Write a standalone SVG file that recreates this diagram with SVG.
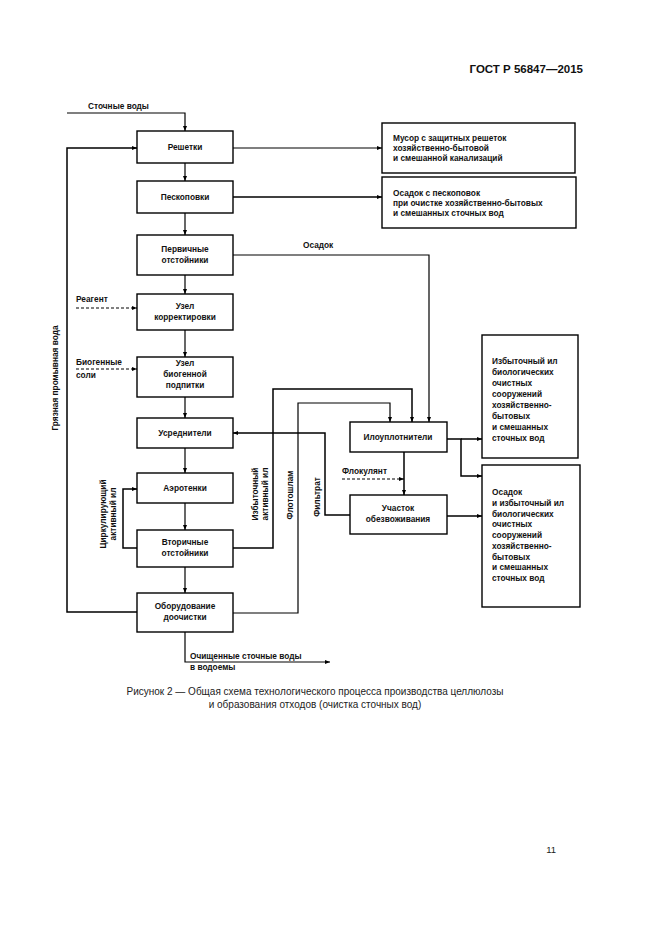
<svg xmlns="http://www.w3.org/2000/svg" width="661" height="935" viewBox="0 0 661 935">
<defs>
<marker id="ah" viewBox="0 0 10 10" refX="10" refY="5" markerWidth="5" markerHeight="5" markerUnits="userSpaceOnUse" orient="auto">
<path d="M0,1 L10,5 L0,9 z" fill="#000"/>
</marker>
</defs>
<style>
.box{fill:#fff;stroke:#000;stroke-width:1.4}
.t{font-family:"Liberation Sans",Arial,sans-serif;font-size:8.3px;font-weight:bold;fill:#111}
.c{text-anchor:middle}
.ln{fill:none;stroke:#000;stroke-width:1.2}
.lt{fill:none;stroke:#000;stroke-width:1.5}
.ds{fill:none;stroke:#000;stroke-width:1;stroke-dasharray:3,2}
.cap{font-family:"Liberation Sans",Arial,sans-serif;font-size:10px;fill:#222;text-anchor:middle}
</style>
<rect width="661" height="935" fill="#fff"/>
<text x="583" y="73" font-family="Liberation Sans,Arial,sans-serif" font-size="11.5" font-weight="bold" text-anchor="end" fill="#111">ГОСТ Р 56847—2015</text>

<g id="connectors">
<polyline class="ln" points="67,113 185,113 185,131" marker-end="url(#ah)"/>
<line class="ln" x1="185" y1="163" x2="185" y2="181" marker-end="url(#ah)"/>
<line class="ln" x1="185" y1="213" x2="185" y2="235" marker-end="url(#ah)"/>
<line class="ln" x1="185" y1="275" x2="185" y2="294" marker-end="url(#ah)"/>
<line class="ln" x1="185" y1="330" x2="185" y2="357" marker-end="url(#ah)"/>
<line class="ln" x1="185" y1="397" x2="185" y2="418" marker-end="url(#ah)"/>
<line class="ln" x1="185" y1="448" x2="185" y2="473" marker-end="url(#ah)"/>
<line class="ln" x1="185" y1="503" x2="185" y2="530" marker-end="url(#ah)"/>
<line class="ln" x1="185" y1="567" x2="185" y2="593" marker-end="url(#ah)"/>
<polyline class="ln" points="185,632 185,662 330,662" marker-end="url(#ah)"/>
<polyline class="lt" points="137,612 67,612 67,148 137,148" marker-end="url(#ah)"/>
<line class="ln" x1="233" y1="148" x2="382" y2="148" marker-end="url(#ah)"/>
<line class="lt" x1="233" y1="197" x2="382" y2="197" marker-end="url(#ah)"/>
<polyline class="ln" points="233,255 429,255 429,422" marker-end="url(#ah)"/>
<line class="ds" x1="76" y1="308" x2="137" y2="308" marker-end="url(#ah)"/>
<line class="ds" x1="76" y1="369" x2="137" y2="369" marker-end="url(#ah)"/>
<polyline class="lt" points="137,548 123,548 123,489 137,489" marker-end="url(#ah)"/>
<polyline class="lt" points="233,548 273,548 273,389 412,389 412,422" marker-end="url(#ah)"/>
<polyline class="ln" points="233,613 298,613 298,403 390,403 390,422" marker-end="url(#ah)"/>
<polyline class="lt" points="350,515 325,515 325,433 233,433" marker-end="url(#ah)"/>
<line class="lt" x1="404" y1="452" x2="404" y2="495" marker-end="url(#ah)"/>
<line class="ds" x1="342" y1="479" x2="404" y2="479" marker-end="url(#ah)"/>
<polyline class="lt" points="447,439 461,439 461,476 482,476" marker-end="url(#ah)"/>
<line class="lt" x1="461" y1="439" x2="482" y2="439" marker-end="url(#ah)"/>
<line class="lt" x1="447" y1="516" x2="482" y2="516" marker-end="url(#ah)"/>
</g>

<g id="labels">
<text class="t" x="88" y="109">Сточные воды</text>
<text class="t" x="303" y="248">Осадок</text>
<text class="t" x="76" y="302">Реагент</text>
<text class="t" x="76" y="365">Биогенные</text>
<text class="t" x="76" y="378">соли</text>
<text class="t c" transform="translate(58,378) rotate(-90)">Грязная промывная вода</text>
<text class="t c" transform="translate(106,514) rotate(-90)">Циркулирующий</text>
<text class="t c" transform="translate(116,514) rotate(-90)">активный ил</text>
<text class="t c" transform="translate(258,494) rotate(-90)">Избыточный</text>
<text class="t c" transform="translate(268,494) rotate(-90)">активный ил</text>
<text class="t c" transform="translate(293,495) rotate(-90)">Флотошлам</text>
<text class="t c" transform="translate(320,497) rotate(-90)">Фильтрат</text>
<text class="t" x="342" y="474">Флокулянт</text>
<text class="t" x="190" y="659">Очищенные сточные воды</text>
<text class="t" x="190" y="670">в водоемы</text>
</g>

<g id="n-reshetki"><rect class="box" x="137" y="131" width="96" height="32"/><text class="t c" x="185" y="150">Решетки</text></g>
<g id="n-peskolovki"><rect class="box" x="137" y="181" width="96" height="32"/><text class="t c" x="185" y="200">Пескоповки</text></g>
<g id="n-perv"><rect class="box" x="137" y="235" width="96" height="40"/><text class="t c" x="185" y="252">Первичные</text><text class="t c" x="185" y="263">отстойники</text></g>
<g id="n-korr"><rect class="box" x="137" y="294" width="96" height="36"/><text class="t c" x="185" y="309">Узел</text><text class="t c" x="185" y="320">корректировки</text></g>
<g id="n-biog"><rect class="box" x="137" y="357" width="96" height="40"/><text class="t c" x="185" y="366">Узел</text><text class="t c" x="185" y="377">биогенной</text><text class="t c" x="185" y="388">подпитки</text></g>
<g id="n-usr"><rect class="box" x="137" y="418" width="96" height="30"/><text class="t c" x="185" y="436">Усреднители</text></g>
<g id="n-aero"><rect class="box" x="137" y="473" width="96" height="30"/><text class="t c" x="185" y="491">Аэротенки</text></g>
<g id="n-vtor"><rect class="box" x="137" y="530" width="96" height="37"/><text class="t c" x="185" y="545">Вторичные</text><text class="t c" x="185" y="556">отстойники</text></g>
<g id="n-doochist"><rect class="box" x="137" y="593" width="96" height="39"/><text class="t c" x="185" y="609">Оборудование</text><text class="t c" x="185" y="620">доочистки</text></g>

<g id="n-musor"><rect class="box" x="382" y="123" width="193" height="50"/><text class="t" x="393" y="141">Мусор с защитных решеток</text><text class="t" x="393" y="151">хозяйственно-бытовой</text><text class="t" x="393" y="161">и смешанной канализаций</text></g>
<g id="n-osadok-pesk"><rect class="box" x="382" y="177" width="194" height="51"/><text class="t" x="393" y="196">Осадок с пескоповок</text><text class="t" x="393" y="206">при очистке хозяйственно-бытовых</text><text class="t" x="393" y="216">и смешанных сточных вод</text></g>

<g id="n-iloupl"><rect class="box" x="350" y="422" width="97" height="30"/><text class="t c" x="398" y="440">Илоуплотнители</text></g>
<g id="n-obezv"><rect class="box" x="350" y="495" width="97" height="39"/><text class="t c" x="398" y="511">Участок</text><text class="t c" x="398" y="522">обезвоживания</text></g>

<g id="n-izb-il"><rect class="box" x="482" y="335" width="96" height="123"/>
<text class="t" x="492" y="364">Избыточный ил</text><text class="t" x="492" y="375">биологических</text><text class="t" x="492" y="386">очистных</text><text class="t" x="492" y="397">сооружений</text><text class="t" x="492" y="408">хозяйственно-</text><text class="t" x="492" y="419">бытовых</text><text class="t" x="492" y="430">и смешанных</text><text class="t" x="492" y="441">сточных вод</text></g>
<g id="n-osadok-il"><rect class="box" x="482" y="465" width="98" height="142"/>
<text class="t" x="492" y="495">Осадок</text><text class="t" x="492" y="506">и избыточный ил</text><text class="t" x="492" y="517">биологических</text><text class="t" x="492" y="527">очистных</text><text class="t" x="492" y="538">сооружений</text><text class="t" x="492" y="549">хозяйственно-</text><text class="t" x="492" y="560">бытовых</text><text class="t" x="492" y="570">и смешанных</text><text class="t" x="492" y="581">сточных вод</text></g>

<text class="cap" x="315" y="695">Рисунок 2 — Общая схема технологического процесса производства целлюлозы</text>
<text class="cap" x="315" y="708">и образования отходов (очистка сточных вод)</text>
<text x="556" y="853" font-family="Liberation Sans,Arial,sans-serif" font-size="9.5" text-anchor="end" fill="#222">11</text>
</svg>
